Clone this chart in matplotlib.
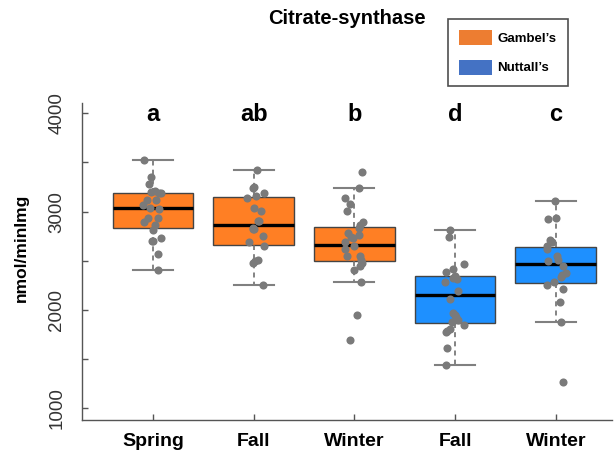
import matplotlib
matplotlib.use("Agg")
import matplotlib.pyplot as plt
from matplotlib.patches import Patch

plt.rcParams["font.family"] = ["Liberation Sans", "DejaVu Sans"]

# groups
labels = ["Spring", "Fall", "Winter", "Fall", "Winter"]
species = ["Gambel's", "Gambel's", "Gambel's", "Nuttall's", "Nuttall's"]
letters = ["a", "ab", "b", "d", "c"]

# box statistics (nmol/min/mg)
medians = [3034, 2864, 2660, 2155, 2464]
q1 = [2836, 2663, 2494, 1870, 2277]
q3 = [3192, 3145, 2840, 2345, 2643]
whis_lo = [2403, 2253, 2287, 1437, 1880]
whis_hi = [3528, 3423, 3243, 2810, 3111]

# individual measurements and their horizontal jitter (box units)
spring_vals = [3528, 3349, 3278, 3199, 3210, 3194, 3189, 3118, 3064, 3037, 3118,
               3026, 2940, 2935, 2894, 2861, 2813, 2706, 2704, 2734, 2566, 2403]
spring_jit = [-0.09, -0.02, -0.04, -0.02, 0.02, 0.06, 0.08, -0.06, -0.10, -0.03, 0.03,
              0.06, 0.05, -0.05, -0.09, 0.02, 0.00, -0.01, 0.00, 0.08, 0.05, 0.05]
gfall_vals = [3423, 3237, 3247, 3141, 3159, 3192, 3034, 3009, 2907, 2901,
              2830, 2823, 2820, 2752, 2688, 2650, 2474, 2494, 2508, 2250]
gfall_jit = [0.03, -0.01, 0.00, -0.07, 0.02, 0.10, 0.00, 0.07, 0.04, 0.05,
             -0.01, 0.00, -0.01, 0.09, -0.05, 0.10, -0.01, 0.01, 0.04, 0.09]
gwint_vals = [3406, 3243, 3135, 3077, 3006, 2891, 2861, 2830, 2762, 2785, 2739, 2730,
              2688, 2653, 2620, 2545, 2551, 2510, 2480, 2447, 2406, 2287, 1948, 1694]
gwint_jit = [0.08, 0.05, -0.09, -0.04, -0.07, 0.09, 0.06, 0.05, 0.05, -0.06, -0.03, -0.01,
             -0.09, 0.00, -0.09, -0.07, 0.06, 0.07, 0.08, 0.06, 0.00, 0.07, 0.03, -0.04]
nfall_vals = [2813, 2739, 2467, 2419, 2386, 2345, 2311, 2321, 2287, 2192, 2111,
              1972, 1948, 1931, 1897, 1880, 1849, 1803, 1789, 1778, 1612, 1439]
nfall_jit = [-0.05, -0.06, 0.09, -0.02, -0.09, 0.00, 0.02, -0.02, -0.10, 0.03, -0.05,
             -0.02, 0.00, 0.01, 0.03, -0.03, 0.09, -0.05, -0.08, -0.09, -0.08, -0.09]
nwint_vals = [3108, 2925, 2932, 2711, 2690, 2650, 2620, 2545, 2510, 2500,
              2447, 2378, 2355, 2338, 2284, 2253, 2216, 2080, 1880, 1270]
nwint_jit = [-0.01, -0.08, 0.00, -0.06, -0.04, -0.09, -0.09, 0.01, 0.02, -0.08,
             0.07, 0.10, 0.06, 0.05, -0.02, -0.09, 0.07, 0.04, 0.05, 0.07]

points = [spring_vals, gfall_vals, gwint_vals, nfall_vals, nwint_vals]
jitter = [spring_jit, gfall_jit, gwint_jit, nfall_jit, nwint_jit]

box_colors = {"Gambel's": "#FF7F24", "Nuttall's": "#1E90FF"}
legend_colors = {"Gambel's": "#ED7D31", "Nuttall's": "#4472C4"}

fig = plt.figure(figsize=(6.15, 4.55), dpi=100)
ax = fig.add_axes([0.1333, 0.0769, 0.8617, 0.6967])

stats = []
for i in range(len(labels)):
    stats.append({"med": medians[i], "q1": q1[i], "q3": q3[i],
                  "whislo": whis_lo[i], "whishi": whis_hi[i], "fliers": []})

pos = list(range(1, len(labels) + 1))
bp = ax.bxp(stats, positions=pos, widths=0.8, patch_artist=True, showfliers=False,
            boxprops=dict(edgecolor="#444444", linewidth=1.0),
            medianprops=dict(color="black", linewidth=2.4),
            whiskerprops=dict(color="#6E6E6E", linewidth=1.2, linestyle=(0, (3, 2.5))),
            capprops=dict(color="#808080", linewidth=1.5), capwidths=0.4)
for patch, sp in zip(bp["boxes"], species):
    patch.set_facecolor(box_colors[sp])

for i in range(len(labels)):
    xs = [pos[i] + j for j in jitter[i]]
    ax.scatter(xs, points[i], s=34, color="#7A7A7A", zorder=5, linewidths=0)

for i, let in enumerate(letters):
    ax.text(pos[i], 3985, let, ha="center", va="center", fontsize=17, fontweight="bold")

ax.set_xlim(0.295, 5.558)
ax.set_ylim(880, 4105)
ax.set_xticks(pos)
ax.set_xticklabels(labels, fontsize=14, fontweight="bold")
ax.set_yticks([1000, 1500, 2000, 2500, 3000, 3500, 4000])
ax.set_yticklabels(["1000", "", "2000", "", "3000", "", "4000"], rotation=90,
                   va="center", fontsize=13.5, color="#333333")
ax.tick_params(axis="x", direction="in", length=4.5, width=1, color="#555555", pad=9)
ax.tick_params(axis="y", direction="in", length=4.5, width=1, color="#555555", pad=12)
for s in ["top", "right"]:
    ax.spines[s].set_visible(False)
for s in ["left", "bottom"]:
    ax.spines[s].set_color("#555555")
    ax.spines[s].set_linewidth(1.0)

fig.text(21 / 615, 1 - 248 / 455, "nmol/minImg", rotation=90, ha="center", va="center",
         fontsize=12.5, fontweight="bold")
fig.text(347 / 615, 1 - 18 / 455, "Citrate-synthase", ha="center", va="center",
         fontsize=14.5, fontweight="bold")

handles = [Patch(facecolor=legend_colors[s], edgecolor="none") for s in ["Gambel's", "Nuttall's"]]
leg = fig.legend(handles, ["Gambel\u2019s", "Nuttall\u2019s"], loc="upper left",
                 bbox_to_anchor=(448 / 615, 1 - 19 / 455), frameon=True, fancybox=False,
                 prop=dict(size=9.5, weight="bold"), handlelength=2.5, handleheight=1.36,
                 labelspacing=1.1, borderpad=0.85, handletextpad=0.4, borderaxespad=0)
leg.get_frame().set_edgecolor("#222222")
leg.get_frame().set_linewidth(1.2)

fig.savefig("out.png", dpi=100)
